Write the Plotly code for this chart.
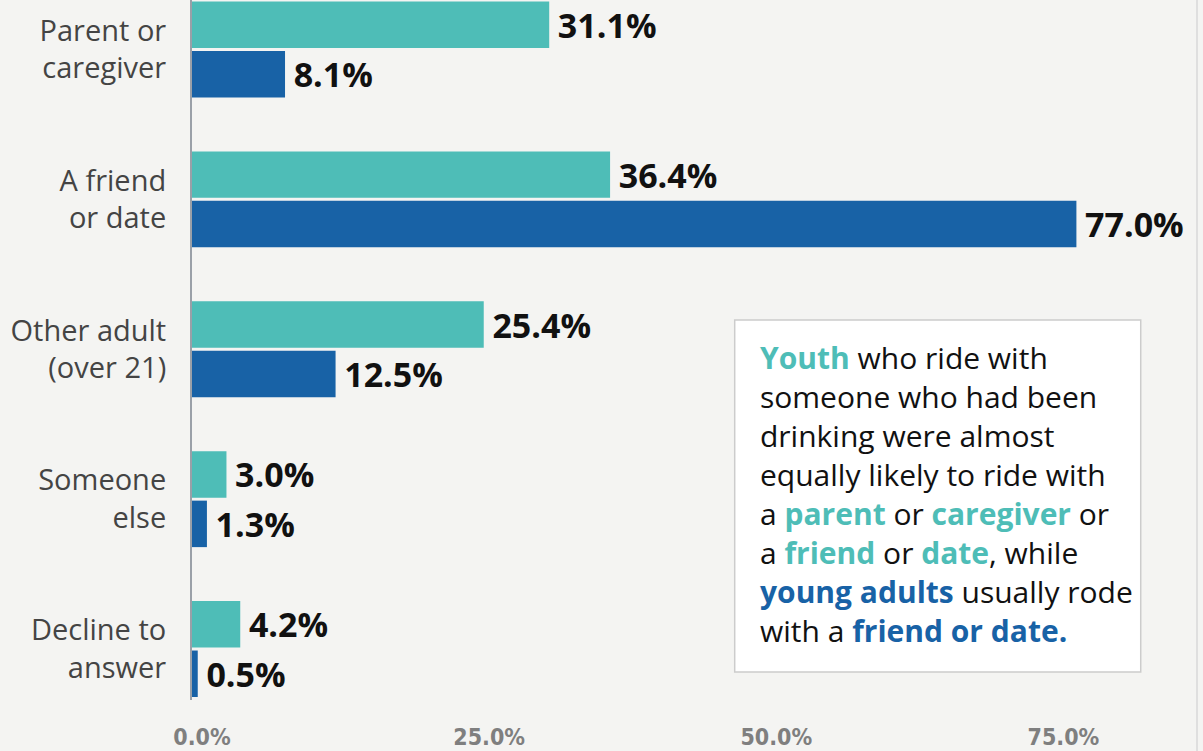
import plotly.graph_objects as go

categories = ["Parent or<br>caregiver", "A friend<br>or date", "Other adult<br>(over 21)",
              "Someone<br>else", "Decline to<br>answer"]
youth = [31.1, 36.4, 25.4, 3.0, 4.2]
young_adults = [8.1, 77.0, 12.5, 1.3, 0.5]
tick_vals = [0, 25, 50, 75]
tick_text = ["0.0%", "25.0%", "50.0%", "75.0%"]

TEAL = "#4EBDB7"
BLUE = "#1862A6"
BG = "#F4F4F2"

fig = go.Figure()
for name, vals, col in [("Youth", youth, TEAL), ("Young adults", young_adults, BLUE)]:
    fig.add_trace(go.Bar(
        y=categories, x=vals, name=name, orientation="h",
        marker=dict(color=col, line=dict(width=0)),
        text=["\u2009" + f"{v:.1f}%" for v in vals],
        textposition="outside", constraintext="none", cliponaxis=False,
        textfont=dict(family="Open Sans", size=34, color="#111111", weight="bold"),
    ))

note = ("<span style='color:%s'><b>Youth</b></span> who ride with<br>"
        "someone who had been<br>"
        "drinking were almost<br>"
        "equally likely to ride with<br>"
        "a <span style='color:%s'><b>parent</b></span> or <span style='color:%s'><b>caregiver</b></span> or<br>"
        "a <span style='color:%s'><b>friend</b></span> or <span style='color:%s'><b>date</b></span>, while<br>"
        "<span style='color:%s'><b>young adults</b></span> usually rode<br>"
        "with a <span style='color:%s'><b>friend or date.</b></span>") % (
            TEAL, TEAL, TEAL, TEAL, TEAL, BLUE, BLUE)

fig.update_layout(
    width=1203, height=751,
    margin=dict(l=192, r=6, t=0, b=51),
    paper_bgcolor=BG, plot_bgcolor=BG,
    barmode="group", bargap=0.34, bargroupgap=0.06,
    showlegend=False,
    xaxis=dict(range=[0, 87.5], tickvals=tick_vals, ticktext=tick_text,
               showgrid=False, zeroline=False, showline=False, ticks="",
               automargin=False, ticklabelstandoff=21, ticklabelshift=10,
               tickfont=dict(family="Liberation Sans Narrow, DejaVu Sans Condensed", size=23,
                             color="#7F7F7F", weight="bold")),
    yaxis=dict(type="category", categoryarray=categories, range=[4.34, -0.33],
               showgrid=False, zeroline=False, showline=True, linecolor="#9AA0A8", linewidth=2,
               ticks="", automargin=False, ticklabelstandoff=18,
               tickfont=dict(family="Open Sans", size=29, color="#444444")),
    shapes=[
        dict(type="rect", xref="paper", yref="paper", x0=0.540, x1=0.944, y0=0.04, y1=0.543,
             fillcolor="white", line=dict(color="#CCCCCC", width=1.5), layer="above"),
        dict(type="line", xref="paper", yref="paper", x0=1, x1=1, y0=-0.08, y1=1,
             line=dict(color="#D9D9D9", width=1.5)),
    ],
    annotations=[dict(xref="paper", yref="paper", x=0.563, y=0.522, xanchor="left", yanchor="top",
                      align="left", showarrow=False, text=note,
                      font=dict(family="Open Sans", size=30, color="#111111"))],
)

fig.write_html("out.html", config={"displayModeBar": False},
               post_script="document.body.style.margin='0';")
